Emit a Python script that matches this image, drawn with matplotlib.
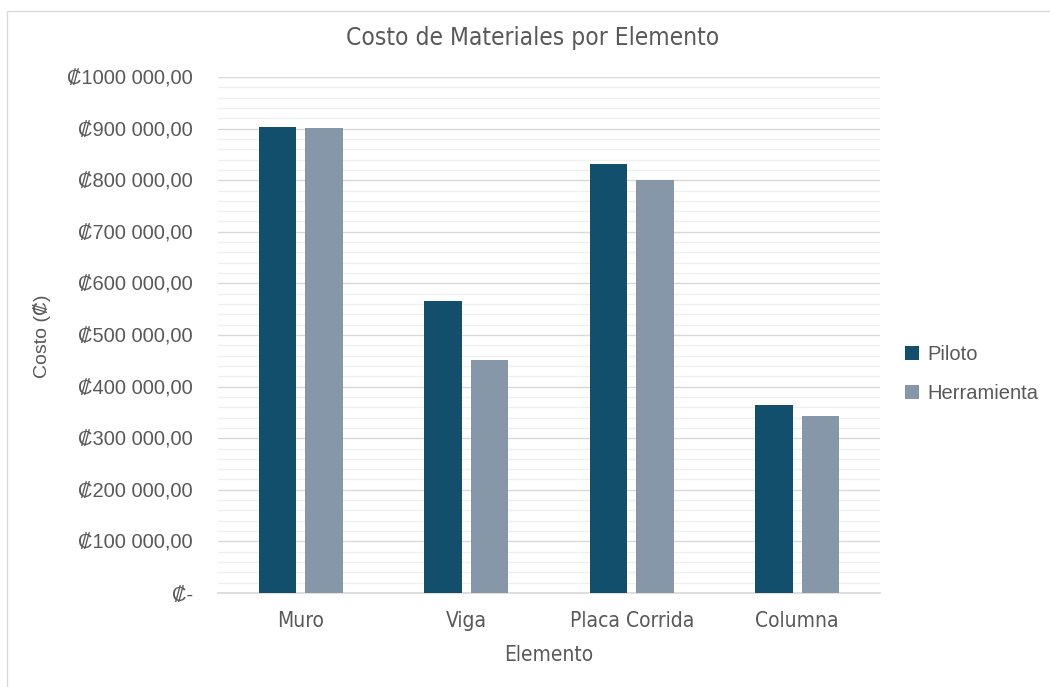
import matplotlib
matplotlib.use('Agg')
import numpy as np
import matplotlib.pyplot as plt
from matplotlib.patches import Rectangle
from matplotlib.ticker import FuncFormatter, MultipleLocator
from matplotlib import font_manager

elementos = ['Muro', 'Viga', 'Placa Corrida', 'Columna']
piloto = [904000, 566500, 832000, 365000]
herramienta = [901500, 451000, 800000, 343500]
series_names = ['Piloto', 'Herramienta']
colors = ['#114f6d', '#8797aa']
txt = '#595959'

sans = ['Liberation Sans', 'DejaVu Sans']
# condensed face for title / category labels (Excel uses Aptos Narrow)
have = set(f.name for f in font_manager.fontManager.ttflist)
if 'Liberation Sans Narrow' in have:
	narrow = dict(family=['Liberation Sans Narrow', 'DejaVu Sans'])
else:
	narrow = dict(family=['DejaVu Sans'], stretch='condensed')

def colon_fmt(v, pos):
	if v == 0:
		return '\u20a1-'
	s = '{:,.2f}'.format(v)
	ent, dec = s.split('.')
	ent = ent.replace(',', ' ')
	if v >= 1000000:
		ent = ent.replace(' ', '', 1)
	return '\u20a1' + ent + ',' + dec

fig = plt.figure(figsize=(10.5, 6.87), dpi=100)
ax = fig.add_axes([218/1050, 1-593/687, (880-218)/1050, (593-77)/687])

x = np.arange(len(elementos))
w = 0.225
ax.bar(x - 0.14, piloto, w, color=colors[0], label=series_names[0], zorder=3)
ax.bar(x + 0.14, herramienta, w, color=colors[1], label=series_names[1], zorder=3)

ax.set_xlim(-0.5, len(elementos) - 0.5)
ax.set_ylim(0, 1000000)
ax.yaxis.set_major_locator(MultipleLocator(100000))
ax.yaxis.set_minor_locator(MultipleLocator(20000))
ax.yaxis.set_major_formatter(FuncFormatter(colon_fmt))
ax.grid(axis='y', which='major', color='#d9d9d9', linewidth=1.0, zorder=0)
ax.grid(axis='y', which='minor', color='#efefef', linewidth=0.9, zorder=0)
ax.tick_params(axis='both', which='both', length=0)
ax.tick_params(axis='y', pad=18)
ax.tick_params(axis='x', pad=13)
for s in ['top', 'right', 'left']:
	ax.spines[s].set_visible(False)
ax.spines['bottom'].set_color('#d9d9d9')
ax.spines['bottom'].set_linewidth(1.2)

ax.set_xticks(x)
ax.set_xticklabels(elementos, fontsize=15, color=txt, **narrow)
for t in ax.get_yticklabels():
	t.set_fontsize(14.5)
	t.set_color(txt)
	t.set_family(sans)

fig.text(533/1050, 1-38/687, 'Costo de Materiales por Elemento', ha='center', va='center',
	fontsize=17.6, color=txt, **narrow)
ax.set_xlabel('Elemento', fontsize=15, color=txt, labelpad=10, **narrow)
fig.text(42/1050, 1-336/687, 'Costo (\u20a1)', rotation=90, ha='center', va='center',
	fontsize=14, color=txt, family=sans)

leg = ax.legend(loc='center left', bbox_to_anchor=(1.01, 0.424), frameon=False,
	handlelength=0.7, handleheight=0.7, handletextpad=0.4, labelspacing=1.0,
	prop={'family': sans, 'size': 14.5})
for t in leg.get_texts():
	t.set_color(txt)

fig.patches.append(Rectangle((7/1050, -0.01), 1.02, 1-11/687+0.01, transform=fig.transFigure,
	fill=False, edgecolor='#d9d9d9', linewidth=1.0))

fig.savefig('out.png', dpi=100)
